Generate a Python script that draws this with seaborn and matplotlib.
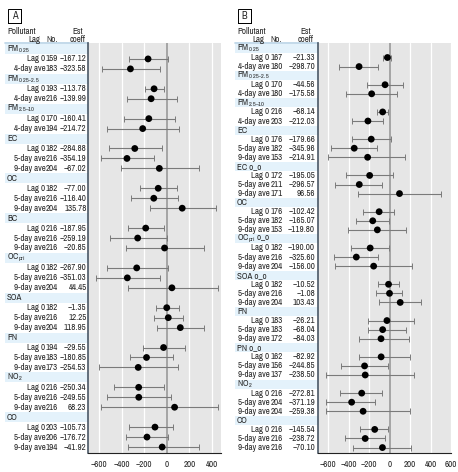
import numpy as np
import seaborn as sns
import matplotlib.pyplot as plt
from matplotlib import font_manager
from matplotlib.patches import Rectangle

# ---- Panel A data ----
a_groups = ["PM$_{0.25}$", "PM$_{0.25\u20132.5}$", "PM$_{2.5\u201310}$", "EC", "OC", "BC",
            "OC$_{pri}$", "SOA", "PN", "NO$_2$", "CO"]
a_sizes = [2, 2, 2, 3, 3, 3, 3, 3, 3, 3, 3]
a_lags = ["Lag 0", "4-day ave"] * 3 + ["Lag 0", "5-day ave", "9-day ave"] * 8
a_n = [159, 183, 193, 216, 170, 194, 182, 216, 204, 182, 216, 204, 216, 216, 216,
       182, 216, 204, 182, 216, 204, 194, 183, 173, 216, 216, 216, 203, 206, 194]
a_est = [-167.12, -323.58, -113.78, -139.99, -160.41, -214.72, -284.88, -354.19, -67.02,
         -77.00, -116.40, 135.78, -187.95, -259.19, -20.85, -267.90, -351.03, 44.45,
         -1.35, 12.25, 118.95, -29.55, -180.85, -254.53, -250.34, -249.55, 68.23,
         -105.73, -176.72, -41.92]
a_lo = [-337, -579, -198, -357, -381, -535, -517, -582, -411, -236, -322, -154, -346, -508,
        -366, -535, -629, -349, -100, -112, -86, -216, -331, -600, -470, -529, -582,
        -340, -360, -349]
a_hi = [6, -65, -30, 86, 71, 106, -44, -115, 284, 92, 97, 434, -30, 0, 328, 6, -62, 452,
        106, 142, 325, 162, 56, 95, -30, 35, 452, 50, 6, 281]

# ---- Panel B data ----
b_groups = ["PM$_{0.25}$", "PM$_{0.25\u20132.5}$", "PM$_{2.5\u201310}$", "EC", "EC o_o", "OC",
            "OC$_{pri}$ o_o", "SOA o_o", "PN", "PN o_o", "NO$_2$", "CO"]
b_sizes = [2, 2, 2, 3, 3, 3, 3, 3, 3, 3, 3, 3]
b_lags = ["Lag 0", "4-day ave"] * 3 + ["Lag 0", "5-day ave", "9-day ave"] * 9
b_n = [167, 180, 170, 180, 216, 203, 176, 182, 153, 172, 211, 171, 176, 182, 153,
       182, 216, 204, 182, 216, 204, 183, 183, 172, 162, 156, 137, 216, 204, 204,
       216, 216, 216]
b_est = [-21.33, -298.70, -44.56, -175.58, -68.14, -212.03, -179.66, -345.96, -214.91,
         -195.05, -296.57, 96.56, -102.42, -165.07, -119.80, -190.00, -325.60, -156.00,
         -10.52, -1.08, 103.43, -26.21, -68.04, -84.03, -82.92, -244.85, -238.50,
         -272.81, -371.19, -259.38, -145.54, -238.72, -70.10]
b_lo = [-62, -492, -223, -430, -121, -367, -367, -577, -600, -430, -531, -311, -262, -331,
        -410, -380, -544, -538, -118, -134, -108, -207, -207, -298, -295, -479, -626,
        -482, -623, -626, -289, -439, -357]
b_hi = [13, -111, 128, 75, -16, -62, 10, -121, 154, 36, -72, 502, 43, -3, 161, -10, -118,
        223, 95, 121, 311, 239, 164, 187, 197, -16, 236, -75, -138, 197, -16, -46, 213]

W, H = 458, 472
sns.set_style("white")

# a narrow face if one is around, otherwise a small Liberation Sans
narrow = [f.name for f in font_manager.fontManager.ttflist
          if ("Narrow" in f.name or "Condensed" in f.name) and f.weight in (400, "normal")]
if narrow:
    FONT, FS, FT = narrow[0], 6.4, 6.4
else:
    FONT, FS, FT = "Liberation Sans", 5.4, 5.9
plt.rcParams["font.family"] = [FONT, "DejaVu Sans"]
plt.rcParams["mathtext.fontset"] = "custom"
plt.rcParams["mathtext.rm"] = FONT
plt.rcParams["mathtext.it"] = FONT
plt.rcParams["mathtext.default"] = "regular"

fig = plt.figure(figsize=(W / 100, H / 100), dpi=100)


def fx(x):
    return x / W


def fy(y):
    return 1 - y / H


def fmt(v):
    return f"{v:.2f}".replace("-", "\u2212")


def panel(label, x0, lag_x, n_x, est_x, plot_l, plot_r, xlim, ticks,
          groups, sizes, lags, ns, est, lo, hi):
    top, bot = 43, 453
    ypos = []
    headers = []
    k = 0
    for g, s in zip(groups, sizes):
        headers.append((k, g))
        k += 1
        for _ in range(s):
            ypos.append(k)
            k += 1
    nlines = k
    ylim = (nlines - 0.4, -0.6)

    tax = fig.add_axes([fx(x0), fy(bot), fx(plot_l - x0), (bot - top) / H])
    ax = fig.add_axes([fx(plot_l), fy(bot), fx(plot_r - plot_l), (bot - top) / H])
    tax.set_xlim(x0, plot_l)
    tax.set_ylim(*ylim)
    tax.axis("off")
    for i, g in headers:
        tax.axhspan(i - 0.5, i + 0.5, color="#e4f2fb", lw=0)
        tax.text(x0 + 2, i, g, fontsize=FS, va="center", ha="left")
    for i, lg, n, e in zip(ypos, lags, ns, est):
        tax.text(lag_x, i, lg, fontsize=FS, va="center", ha="right")
        tax.text(n_x, i, str(n), fontsize=FS, va="center", ha="center")
        tax.text(est_x, i, fmt(e), fontsize=FS, va="center", ha="right")
    tax.plot([x0, plot_l], [ylim[1], ylim[1]], color="#b9d3e6", lw=1.2, clip_on=False)

    # column header
    fig.text(fx(x0 + 2), fy(31), "Pollutant", fontsize=FS, va="center", ha="left")
    fig.text(fx(lag_x - 11), fy(39), "Lag", fontsize=FS, va="center", ha="center")
    fig.text(fx(n_x), fy(39), "No.", fontsize=FS, va="center", ha="center")
    fig.text(fx(est_x - 9), fy(31), "Est", fontsize=FS, va="center", ha="center")
    fig.text(fx(est_x - 9), fy(39), "coeff", fontsize=FS, va="center", ha="center")

    # panel letter box with a shadow
    fig.patches.append(Rectangle((fx(x0 + 3), fy(23)), fx(13), 14 / H, transform=fig.transFigure,
                                 facecolor="white", edgecolor="black", lw=0.7))
    fig.patches.append(Rectangle((fx(x0 + 16), fy(23)), fx(1.3), 14 / H, transform=fig.transFigure,
                                 facecolor="black", lw=0))
    fig.patches.append(Rectangle((fx(x0 + 3), fy(24.3)), fx(14.3), 1.3 / H, transform=fig.transFigure,
                                 facecolor="black", lw=0))
    fig.text(fx(x0 + 9.5), fy(16), label, fontsize=7.5, fontweight="bold", ha="center", va="center")

    # plot area
    ax.set_facecolor("#e6e6e6")
    ax.set_xlim(*xlim)
    ax.set_ylim(*ylim)
    for t in ticks:
        if t == 0:
            ax.axvline(0, color="#9a9a9a", lw=1.2, zorder=1)
        else:
            ax.axvline(t, color="white", lw=0.9, zorder=1)
    ax.errorbar(est, ypos, xerr=[np.array(est) - np.array(lo), np.array(hi) - np.array(est)],
                fmt="none", ecolor="#7a7a7a", elinewidth=0.8, capsize=2, capthick=0.7, zorder=2)
    sns.scatterplot(x=est, y=ypos, ax=ax, color="black", s=24, edgecolor="none", zorder=3)
    ax.set_xticks(ticks)
    ax.set_xticklabels([str(t).replace("-", "\u2212") for t in ticks], fontsize=FT)
    ax.set_yticks([])
    ax.tick_params(axis="x", length=2, width=0.6, pad=3, color="#333333")
    ax.set_xlabel("")
    ax.set_ylabel("")
    for s in ["top", "right"]:
        ax.spines[s].set_visible(False)
    ax.spines["left"].set_color("#4b5866")
    ax.spines["left"].set_linewidth(1.2)
    ax.spines["bottom"].set_color("#222222")
    ax.spines["bottom"].set_linewidth(0.8)


panel("A", 5, 45.5, 52, 86.5, 88, 221, (-700, 480), [-600, -400, -200, 0, 200, 400],
      a_groups, a_sizes, a_lags, a_n, a_est, a_lo, a_hi)
panel("B", 235, 269.5, 276.5, 315, 318, 451, (-700, 600), [-600, -400, -200, 0, 200, 400, 600],
      b_groups, b_sizes, b_lags, b_n, b_est, b_lo, b_hi)

fig.savefig("out.png", dpi=100)
